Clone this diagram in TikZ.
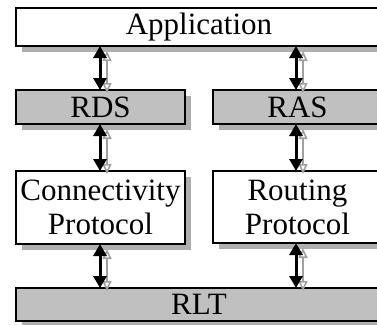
\documentclass[tikz,border=0pt]{standalone}
\usepackage{fontspec}
\setmainfont{Liberation Serif}
\usetikzlibrary{arrows.meta,shadows}
\definecolor{boxgray}{RGB}{192,192,192}
\definecolor{shadegray}{RGB}{175,175,175}
\definecolor{arrshade}{RGB}{160,160,160}
\begin{document}
\begin{tikzpicture}[x=1pt,y=-1pt,
  layerbox/.style={draw=black, line width=2pt, inner sep=0pt, align=center,
    anchor=north west, font=\fontsize{31}{34}\selectfont,
    drop shadow={shadow xshift=6pt, shadow yshift=-6pt, fill=shadegray, opacity=1}},
  whitebox/.style={layerbox, fill=white},
  graybox/.style={layerbox, fill=boxgray},
  linkarrow/.style={line width=3pt, {Triangle[width=13pt,length=12pt]}-{Triangle[width=13pt,length=12pt]}, shorten <=-1pt, shorten >=-1pt},
  linkshade/.style={draw=arrshade, line width=1.6pt, {Triangle[open,width=9pt,length=10pt]}-{Triangle[open,width=9pt,length=10pt]},
    transform canvas={shift={(7pt,-4pt)}}}
]
\useasboundingbox (0,0) rectangle (377,324);
\clip (0,0) rectangle (377,324);
\node[whitebox, minimum width=366pt, minimum height=38pt] (app) at (15,7) {Application};
\node[graybox, minimum width=169pt, minimum height=34pt] (rds) at (15,89) {RDS};
\node[graybox, minimum width=169pt, minimum height=34pt] (ras) at (212,89) {RAS};
\node[whitebox, minimum width=169pt, minimum height=73pt] (conn) at (15,170) {Connectivity\\Protocol};
\node[whitebox, minimum width=169pt, minimum height=72pt] (rout) at (212,170) {Routing\\Protocol};
\node[graybox, minimum width=366pt, minimum height=33pt] (rlt) at (15,287) {RLT};
\coordinate (lx) at (100,0);
\coordinate (rx) at (296,0);
\foreach \a/\b/\c in {app/rds/lx, app/ras/rx, rds/conn/lx, ras/rout/rx, conn/rlt/lx, rout/rlt/rx}{
  \draw[linkshade] (\a.south -| \c) -- (\b.north -| \c);
  \draw[linkarrow] (\a.south -| \c) -- (\b.north -| \c);
}
\end{tikzpicture}
\end{document}
